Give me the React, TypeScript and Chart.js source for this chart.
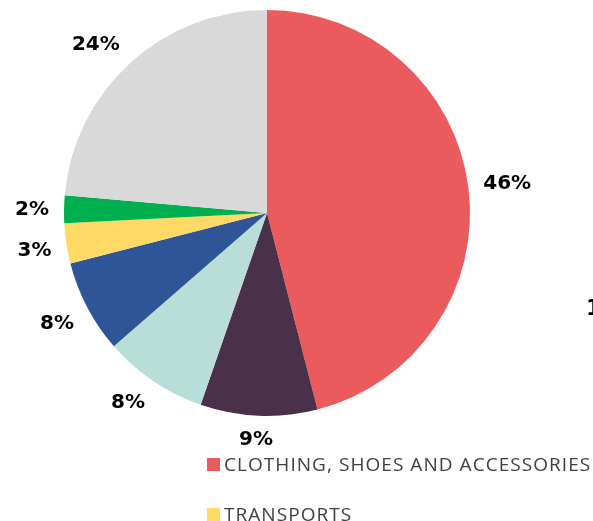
import React, { useEffect, useRef } from "react";
import { Chart, registerables } from "chart.js";

Chart.register(...registerables);

const categories = [
  "CLOTHING, SHOES AND ACCESSORIES",
  "FOOD",
  "HEALTH",
  "HOUSING",
  "TRANSPORTS",
  "LEISURE",
  "OTHER",
];
const values = [46.0, 9.3, 8.3, 7.4, 3.2, 2.2, 23.6];
const labels = ["46%", "9%", "8%", "8%", "3%", "2%", "24%"];
const colors = ["#EB5B5E", "#4A3049", "#B9DED7", "#2E5597", "#FFD966", "#00B050", "#D9D9D9"];
const legendShown = [0, 4];

const LABEL_FONT = "'DejaVu Sans', sans-serif";
const LEGEND_FONT = "'Open Sans', 'Noto Sans', sans-serif";

const outerLabels = {
  id: "outerLabels",
  afterDatasetsDraw(chart: any) {
    const ctx = chart.ctx;
    const meta = chart.getDatasetMeta(0);
    ctx.save();
    ctx.font = `bold 20px ${LABEL_FONT}`;
    ctx.fillStyle = "#000";
    ctx.textAlign = "center";
    ctx.textBaseline = "middle";
    const gap = 15;
    const hh = 8;
    meta.data.forEach((arc: any, i: number) => {
      const mid = (arc.startAngle + arc.endAngle) / 2;
      const dx = Math.cos(mid);
      const dy = Math.sin(mid);
      const text = labels[i];
      const hw = ctx.measureText(text).width / 2;
      const ex = arc.x + dx * arc.outerRadius;
      const ey = arc.y + dy * arc.outerRadius;
      const ox = dx * gap + Math.sign(dx) * hw * Math.min(1, Math.abs(dx) * 3);
      const oy = dy * gap + Math.sign(dy) * hh * Math.min(1, Math.abs(dy) * 3);
      ctx.fillText(text, ex + ox, ey + oy + 1);
    });
    ctx.restore();
  },
};

export default function App() {
  const ref = useRef<HTMLCanvasElement>(null);
  useEffect(() => {
    if (!ref.current) return;
    const chart = new Chart(ref.current, {
      type: "pie",
      data: {
        labels: categories,
        datasets: [
          {
            data: values,
            backgroundColor: colors,
            borderWidth: 0,
          },
        ],
      },
      options: {
        animation: false,
        responsive: false,
        maintainAspectRatio: false,
        layout: { padding: { left: 64, right: 123, top: 10, bottom: 105 } },
        plugins: {
          legend: { display: false },
          tooltip: { enabled: false },
        },
      },
      plugins: [outerLabels],
    });
    return () => chart.destroy();
  }, []);

  return (
    <div
      style={{
        position: "fixed",
        left: 0,
        top: 0,
        width: 593,
        height: 521,
        overflow: "hidden",
        background: "#fff",
      }}
    >
      <canvas ref={ref} width={593} height={521} style={{ position: "absolute", left: 0, top: 0 }} />
      {legendShown.map((idx, k) => (
        <div
          key={idx}
          style={{
            position: "absolute",
            left: 207,
            top: 451 + k * 50,
            display: "flex",
            alignItems: "center",
            whiteSpace: "nowrap",
            fontFamily: LEGEND_FONT,
            fontSize: 19,
            letterSpacing: 1.05,
            color: "#404040",
          }}
        >
          <span
            style={{
              display: "inline-block",
              width: 13,
              height: 13,
              background: colors[idx],
              marginRight: 4,
            }}
          />
          <span>{categories[idx]}</span>
        </div>
      ))}
      <div
        style={{
          position: "absolute",
          left: 586,
          top: 295,
          fontFamily: LABEL_FONT,
          fontWeight: "bold",
          fontSize: 22,
          color: "#000",
          whiteSpace: "nowrap",
        }}
      >
        1
      </div>
    </div>
  );
}
